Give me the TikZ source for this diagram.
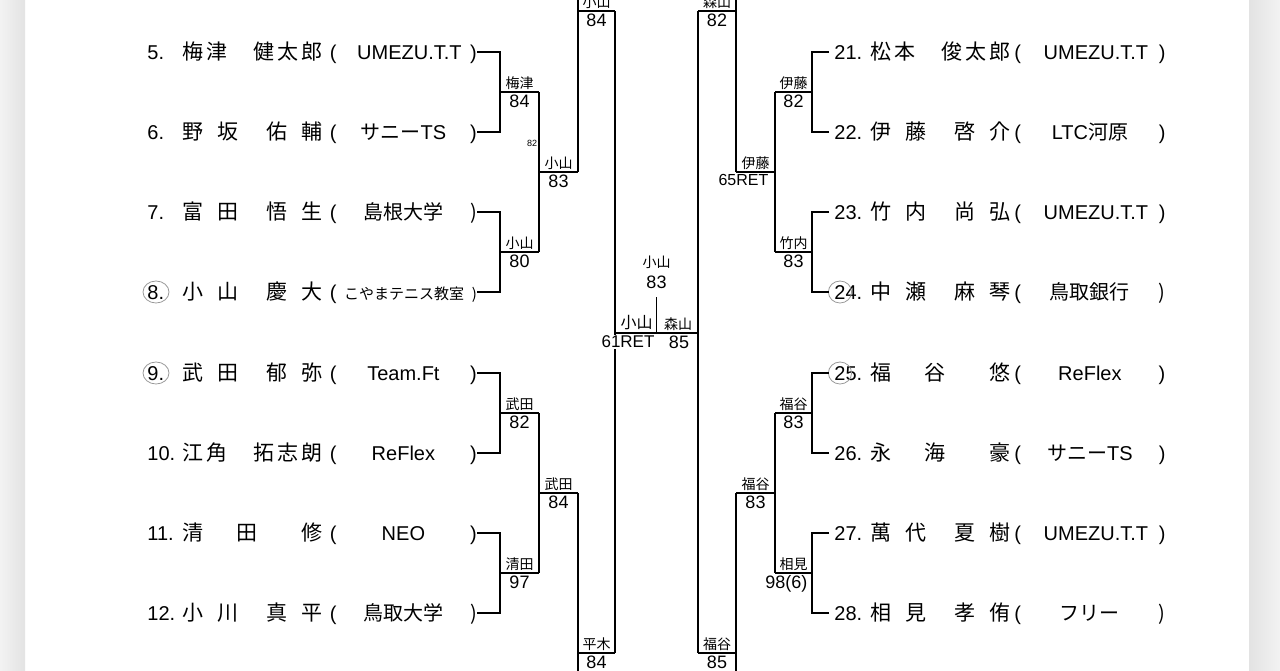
\documentclass[tikz,border=0pt]{standalone}
\usepackage{fontspec}
\setmainfont{Liberation Sans}
\newfontfamily\jp{Noto Sans CJK JP}
\usetikzlibrary{positioning}
\tikzset{
  rowtext/.style={inner sep=0pt, text height=8.5pt, text depth=1.5pt, anchor=west, font=\fontsize{10}{12}\selectfont},
  pname/.style={rowtext, font=\fontsize{10.5}{12}\selectfont\jp},
  team/.style={rowtext},
  winner/.style={inner sep=1pt, anchor=south, font=\fontsize{7}{8}\selectfont\jp},
  score/.style={inner sep=1pt, anchor=north, font=\fontsize{9}{10}\selectfont},
  bracket/.style={line width=0.8pt},
  seedring/.style={draw=black!40, line width=0.4pt},
}
% name layouts: 2+1, 2+2, 2+3 characters
\newcommand\nmA[3]{\hbox to 70pt{#1\hskip16.5pt#2\hskip22pt#3}}
\newcommand\nmB[4]{\hbox to 70pt{#1\hskip7pt#2\hskip14pt#3\hskip7pt#4}}
\newcommand\nmC[5]{\hbox to 70pt{#1\hskip1.5pt#2\hskip13pt#3\hskip1.5pt#4\hskip1.5pt#5}}
\newcommand\tmL[1]{\hbox to 73.5pt{(\hfill#1\hfill)}}
\newcommand\tmR[1]{\hbox to 75.5pt{(\hfill#1\hfill)}}

\begin{document}
\begin{tikzpicture}[x=0.5pt, y=-0.5pt]
  \useasboundingbox (0,0) rectangle (1280,670);
  \clip (0,0) rectangle (1280,670);
  \shade[left color=black!5, right color=black!11] (0,0) rectangle (25,670);
  \shade[left color=black!11, right color=black!5] (1249,0) rectangle (1280,670);

  % left half
  \node[rowtext] (n5) at (147,52) {5.};
  \node[pname] (p5) at (182,52) {\nmC{梅}{津}{健}{太}{郎}};
  \node[team] (t5) at (329.5,52) {\tmL{\hskip6pt UMEZU.T.T}};
  \node[rowtext] (n6) at (147,132) {6.};
  \node[pname] (p6) at (182,132) {\nmB{野}{坂}{佑}{輔}};
  \node[team] (t6) at (329.5,132) {\tmL{{\jp サニー}TS}};
  \node[rowtext] (n7) at (147,212) {7.};
  \node[pname] (p7) at (182,212) {\nmB{富}{田}{悟}{生}};
  \node[team] (t7) at (329.5,212) {\tmL{\jp 島根大学}};
  \node[rowtext] (n8) at (147,292) {8.};
  \node[pname] (p8) at (182,292) {\nmB{小}{山}{慶}{大}};
  \node[team] (t8) at (329.5,292) {\tmL{\fontsize{7.5}{9}\selectfont\jp こやまテニス教室}};
  \node[rowtext] (n9) at (147,373) {9.};
  \node[pname] (p9) at (182,373) {\nmB{武}{田}{郁}{弥}};
  \node[team] (t9) at (329.5,373) {\tmL{Team.Ft}};
  \node[rowtext] (n10) at (147,453) {10.};
  \node[pname] (p10) at (182,453) {\nmC{江}{角}{拓}{志}{朗}};
  \node[team] (t10) at (329.5,453) {\tmL{ReFlex}};
  \node[rowtext] (n11) at (147,533) {11.};
  \node[pname] (p11) at (182,533) {\nmA{清}{田}{修}};
  \node[team] (t11) at (329.5,533) {\tmL{NEO}};
  \node[rowtext] (n12) at (147,613) {12.};
  \node[pname] (p12) at (182,613) {\nmB{小}{川}{真}{平}};
  \node[team] (t12) at (329.5,613) {\tmL{\jp 鳥取大学}};
  \draw[seedring] ([xshift=4.5pt]n8.west) ellipse [x radius=6.5pt, y radius=5.5pt];
  \draw[seedring] ([xshift=4.5pt]n9.west) ellipse [x radius=6.5pt, y radius=5.5pt];

  % right half
  \node[rowtext] (n21) at (834,52) {21.};
  \node[pname] (p21) at (870,52) {\nmC{松}{本}{俊}{太}{郎}};
  \node[team] (t21) at (1014,52) {\tmR{\hskip6pt UMEZU.T.T}};
  \node[rowtext] (n22) at (834,132) {22.};
  \node[pname] (p22) at (870,132) {\nmB{伊}{藤}{啓}{介}};
  \node[team] (t22) at (1014,132) {\tmR{LTC{\jp 河原}}};
  \node[rowtext] (n23) at (834,212) {23.};
  \node[pname] (p23) at (870,212) {\nmB{竹}{内}{尚}{弘}};
  \node[team] (t23) at (1014,212) {\tmR{\hskip6pt UMEZU.T.T}};
  \node[rowtext] (n24) at (834,292) {24.};
  \node[pname] (p24) at (870,292) {\nmB{中}{瀬}{麻}{琴}};
  \node[team] (t24) at (1014,292) {\tmR{\jp 鳥取銀行}};
  \node[rowtext] (n25) at (834,373) {25.};
  \node[pname] (p25) at (870,373) {\nmA{福}{谷}{悠}};
  \node[team] (t25) at (1014,373) {\tmR{ReFlex}};
  \node[rowtext] (n26) at (834,453) {26.};
  \node[pname] (p26) at (870,453) {\nmA{永}{海}{豪}};
  \node[team] (t26) at (1014,453) {\tmR{{\jp サニー}TS}};
  \node[rowtext] (n27) at (834,533) {27.};
  \node[pname] (p27) at (870,533) {\nmB{萬}{代}{夏}{樹}};
  \node[team] (t27) at (1014,533) {\tmR{\hskip6pt UMEZU.T.T}};
  \node[rowtext] (n28) at (834,613) {28.};
  \node[pname] (p28) at (870,613) {\nmB{相}{見}{孝}{侑}};
  \node[team] (t28) at (1014,613) {\tmR{\jp フリー}};
  \draw[seedring] ([xshift=3pt]n24.west) ellipse [x radius=5.8pt, y radius=5.5pt];
  \draw[seedring] ([xshift=3pt]n25.west) ellipse [x radius=5.8pt, y radius=5.5pt];

  % bracket points, left
  \coordinate (q56) at (500,92);    \coordinate (r56) at (539,92);
  \coordinate (q78) at (500,252);   \coordinate (r78) at (539,252);
  \coordinate (q910) at (500,413);  \coordinate (r910) at (539,413);
  \coordinate (q1112) at (500,573); \coordinate (r1112) at (539,573);
  \coordinate (s58) at (539,172);   \coordinate (u58) at (578,172);
  \coordinate (s912) at (539,493);  \coordinate (u912) at (578,493);
  \coordinate (v18) at (578,11);    \coordinate (w18) at (615,11);
  \coordinate (v916) at (578,653);  \coordinate (w916) at (615,653);
  \coordinate (cut1) at (578,-20);  \coordinate (cut2) at (578,690);
  % bracket points, right
  \coordinate (q2122) at (812,92);  \coordinate (r2122) at (775,92);
  \coordinate (q2324) at (812,252); \coordinate (r2324) at (775,252);
  \coordinate (q2526) at (812,413); \coordinate (r2526) at (775,413);
  \coordinate (q2728) at (812,573); \coordinate (r2728) at (775,573);
  \coordinate (s2124) at (775,172); \coordinate (u2124) at (736,172);
  \coordinate (s2528) at (775,493); \coordinate (u2528) at (736,493);
  \coordinate (v1724) at (736,11);  \coordinate (w1724) at (698,11);
  \coordinate (v2532) at (736,653); \coordinate (w2532) at (698,653);
  \coordinate (cut3) at (736,-20);  \coordinate (cut4) at (736,690);
  % final
  \coordinate (f1) at (615,333);    \coordinate (f2) at (698,333);
  \coordinate (fc) at (656.5,333);  \coordinate (fct) at (656.5,297);

  % first round, left
  \draw[bracket] (t5.east) -| (q56);
  \draw[bracket] (t6.east) -| (q56);
  \draw[bracket] (t7.east) -| (q78);
  \draw[bracket] (t8.east) -| (q78);
  \draw[bracket] (t9.east) -| (q910);
  \draw[bracket] (t10.east) -| (q910);
  \draw[bracket] (t11.east) -| (q1112);
  \draw[bracket] (t12.east) -| (q1112);
  \draw[bracket] (q56) -- node[winner] (l56) {梅津} node[score] (c56) {84} (r56);
  \draw[bracket] (q78) -- node[winner] (l78) {小山} node[score] (c78) {80} (r78);
  \draw[bracket] (q910) -- node[winner] (l910) {武田} node[score] (c910) {82} (r910);
  \draw[bracket] (q1112) -- node[winner] (l1112) {清田} node[score] (c1112) {97} (r1112);
  \node[font=\fontsize{4.5}{5}\selectfont, inner sep=0pt] (x82) at (532,143) {82};

  % first round, right
  \draw[bracket, shorten <=2.5pt] (n21.west) -| (q2122);
  \draw[bracket, shorten <=2.5pt] (n22.west) -| (q2122);
  \draw[bracket, shorten <=2.5pt] (n23.west) -| (q2324);
  \draw[bracket, shorten <=2.5pt] (n24.west) -| (q2324);
  \draw[bracket, shorten <=2.5pt] (n25.west) -| (q2526);
  \draw[bracket, shorten <=2.5pt] (n26.west) -| (q2526);
  \draw[bracket, shorten <=2.5pt] (n27.west) -| (q2728);
  \draw[bracket, shorten <=2.5pt] (n28.west) -| (q2728);
  \draw[bracket] (q2122) -- node[winner] (l2122) {伊藤} node[score] (c2122) {82} (r2122);
  \draw[bracket] (q2324) -- node[winner] (l2324) {竹内} node[score] (c2324) {83} (r2324);
  \draw[bracket] (q2526) -- node[winner] (l2526) {福谷} node[score] (c2526) {83} (r2526);
  \draw[bracket] (q2728) -- node[winner] (l2728) {相見}
    node[score, anchor=north east, pos=0.05] (c2728) {98(6)} (r2728);

  % second round
  \draw[bracket] (r56) -- (r78);
  \draw[bracket] (r910) -- (r1112);
  \draw[bracket] (r2122) -- (r2324);
  \draw[bracket] (r2526) -- (r2728);
  \draw[bracket] (s58) -- node[winner] (l58) {小山} node[score] (c58) {83} (u58);
  \draw[bracket] (s912) -- node[winner] (l912) {武田} node[score] (c912) {84} (u912);
  \draw[bracket] (s2124) -- node[winner] (l2124) {伊藤}
    node[score, anchor=north east, pos=0.1, font=\fontsize{8}{9}\selectfont] (c2124) {65RET} (u2124);
  \draw[bracket] (s2528) -- node[winner] (l2528) {福谷} node[score] (c2528) {83} (u2528);

  % quarter finals
  \draw[bracket] (cut1) -- (u58);
  \draw[bracket] (u912) -- (cut2);
  \draw[bracket] (cut3) -- (u2124);
  \draw[bracket] (u2528) -- (cut4);
  \draw[bracket] (v18) -- node[winner] (l18) {小山} node[score] (c18) {84} (w18);
  \draw[bracket] (v916) -- node[winner] (l916) {平木} node[score] (c916) {84} (w916);
  \draw[bracket] (v1724) -- node[winner] (l1724) {森山} node[score] (c1724) {82} (w1724);
  \draw[bracket] (v2532) -- node[winner] (l2532) {福谷} node[score] (c2532) {85} (w2532);

  % semi finals and final
  \draw[bracket] (w18) -- (w916);
  \draw[bracket] (w1724) -- (w2532);
  \draw[bracket] (f1) -- node[winner, pos=0.26, font=\fontsize{8}{9}\selectfont\jp] (lsf1) {小山}
    node[winner, pos=0.76] (lsf2) {森山} (f2);
  \node[score, fill=white, inner sep=0.5pt, font=\fontsize{8.5}{9}\selectfont] (csf1) at (628,334.5) {61RET};
  \node[score] (csf2) at (679,334) {85};
  \draw[bracket] (fc) -- (fct);
  \node[score, above=3pt of fct] (fs) {83};
  \node[winner, above=1pt of fs] (fw) {小山};
\end{tikzpicture}
\end{document}
